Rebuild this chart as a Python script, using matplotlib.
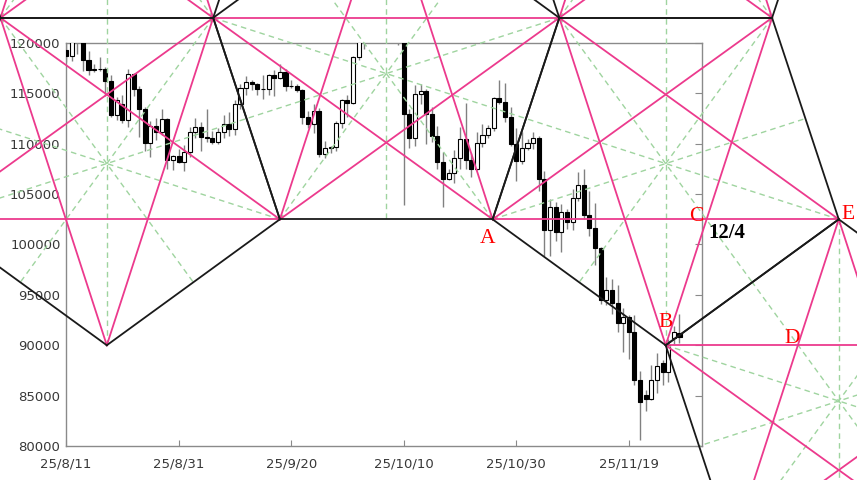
import numpy as np
import pandas as pd
import matplotlib
matplotlib.use("Agg")
import matplotlib.pyplot as plt
import matplotlib.dates as mdates

# daily candles, 25/8/11 .. 25/11/28
dates = pd.date_range("2025-08-11", "2025-11-28", freq="D")

opens = [119300, 118700, 120100, 123300, 118300, 117300, 117400, 117450, 116200, 112900,
         113900, 112400, 116900, 115400, 113400, 110100, 111800, 111200, 112500, 108400,
         108800, 108200, 109200, 111200, 111700, 110700, 110600, 110200, 111150, 112000,
         111500, 113950, 115500, 116100, 115950, 115400, 115450, 116800, 116500, 117100,
         115700, 115750, 115300, 112700, 112000, 113300, 109000, 109600, 109700, 112100,
         114300, 114000, 118600, 120600, 122300, 122400, 123500, 124700, 121400, 123300,
         121700, 113000, 110600, 114900, 115200, 113000, 110800, 108200, 106500, 107100,
         108600, 110500, 108400, 107500, 110100, 110900, 111600, 114500, 114100, 112700,
         110000, 108300, 109600, 110100, 110600, 106500, 101400, 103700, 101200, 103200,
         102200, 104600, 105900, 102900, 101600, 99700, 94500, 95500, 94200, 92200,
         92800, 91300, 86600, 85100, 84700, 86600, 88200, 87300, 90700, 91200]
highs = [122300, 120300, 123700, 124400, 119200, 117900, 118600, 117600, 116800, 114600,
         114800, 117400, 117000, 115700, 113600, 112300, 112600, 113400, 112600, 108900,
         109500, 109900, 111700, 112600, 112200, 113400, 111300, 111600, 112900, 113200,
         114300, 115900, 116700, 116300, 116000, 116800, 116900, 117300, 117900, 117400,
         116300, 115900, 115400, 113300, 113900, 113500, 110300, 109800, 112300, 114400,
         114800, 118700, 121000, 123900, 122900, 125700, 126200, 125200, 124200, 123700,
         122500, 113400, 115800, 115900, 115400, 113600, 111800, 109200, 107500, 109400,
         111700, 114000, 109100, 111200, 112000, 111900, 114600, 116300, 116000, 113600,
         111600, 111200, 110500, 111200, 110800, 107300, 104500, 104200, 104000, 103500,
         105500, 107200, 107500, 105300, 104100, 99800, 96800, 96600, 96000, 93700,
         93000, 93000, 87400, 85600, 88000, 89200, 88500, 90600, 91900, 93100]
lows = [118100, 118200, 118900, 117200, 116800, 117100, 117200, 114700, 112700, 112400,
        112100, 111700, 114700, 110700, 109300, 108700, 110400, 110900, 107500, 107400,
        108100, 107300, 108700, 110600, 109300, 110200, 110000, 110000, 110600, 110800,
        110900, 113400, 114800, 115300, 114800, 114400, 114800, 114700, 116400, 115200,
        115500, 115100, 112000, 111600, 111100, 108700, 108600, 109100, 109300, 111600,
        112700, 113900, 118300, 119400, 121600, 122100, 123100, 120600, 121100, 119800,
        103900, 109600, 109800, 113900, 110000, 110200, 107500, 103700, 106400, 106100,
        107500, 107500, 106700, 107400, 109700, 110600, 111300, 113900, 112200, 109800,
        106300, 108000, 109400, 109500, 105300, 98900, 98900, 100300, 99300, 101500,
        101400, 104300, 102500, 100800, 98000, 94100, 94000, 93100, 91300, 89300,
        88600, 86100, 80600, 83500, 84600, 85300, 86100, 86400, 90100, 90200]
closes = [118700, 120100, 123300, 118300, 117300, 117400, 117450, 116200, 112900, 114300,
          112400, 116900, 115400, 113400, 110100, 111800, 111200, 112500, 108400, 108800,
          108200, 109200, 111200, 111700, 110700, 110600, 110200, 111150, 112000, 111500,
          113950, 115500, 116100, 115950, 115400, 115450, 116800, 116500, 117100, 115700,
          115750, 115300, 112700, 112000, 113300, 109000, 109600, 109700, 112100, 114300,
          114000, 118600, 120600, 122300, 122400, 123500, 124700, 121400, 123300, 121700,
          113000, 110600, 114900, 115200, 113000, 110800, 108200, 106500, 107100, 108600,
          110500, 108400, 107500, 110100, 110900, 111600, 114500, 114100, 112700, 110000,
          108300, 109600, 110100, 110600, 106500, 101400, 103700, 101200, 103200, 102200,
          104600, 105900, 102900, 101600, 99700, 94500, 95500, 94200, 92200, 92800,
          91300, 86600, 84400, 84700, 86600, 87900, 87300, 90000, 91300, 90800]

y_ticks = list(range(80000, 120001, 5000))
x_tick_dates = pd.date_range("2025-08-11", periods=6, freq="20D")

# first pentagon of the overlay (days after 25/8/11, price), the others are
# made by turning it half a turn around a shared edge
pent_days = [7.25, 38.0, 26.15, -11.65, -23.5]
pent_prices = [90000, 102500, 122500, 122500, 102500]

BLACK = "#1a1a1a"
PINK = "#ec3a8d"
GREEN = "#9fd49f"
GRAY = "#8a8a8a"

fig = plt.figure(figsize=(8.57, 4.8), dpi=100)
ax = fig.add_axes([66 / 857, 34 / 480, 636 / 857, 403 / 480])

# candles
x = mdates.date2num(dates)
o = np.array(opens, dtype=float)
c = np.array(closes, dtype=float)
up = c >= o
ax.vlines(x, lows, highs, color="#808080", lw=1.0, zorder=2)
ax.bar(x[up], (c - o)[up], bottom=o[up], width=0.72, color="white",
       edgecolor="black", lw=0.8, zorder=3)
ax.bar(x[~up], (o - c)[~up], bottom=c[~up], width=0.72, color="black",
       edgecolor="black", lw=0.8, zorder=3)

x0 = mdates.date2num(pd.Timestamp("2025-08-11"))
ax.set_xlim(x0, mdates.date2num(pd.Timestamp("2025-12-02")))
ax.set_ylim(80000, 120000)

ax.set_yticks(y_ticks)
ax.set_yticklabels([str(v) for v in y_ticks])
ax.set_xticks(mdates.date2num(x_tick_dates))
ax.set_xticklabels([f"{d.year % 100}/{d.month}/{d.day}" for d in x_tick_dates])
ax.tick_params(axis="x", direction="in", length=4, color=GRAY, pad=8,
               labelsize=9.5, labelcolor="#383838")
ax.tick_params(axis="y", left=False, right=True, direction="in", length=5,
               color=GRAY, pad=4, labelsize=9.5, labelcolor="#383838")
for s in ax.spines.values():
    s.set_color(GRAY)
    s.set_linewidth(1.0)

# pentagon overlay
pent1 = np.column_stack([x0 + np.array(pent_days), pent_prices])


def flip(p, i, j):
    m = (p[i] + p[j]) / 2
    return 2 * m - p


pent2 = flip(pent1, 1, 2)
pent3 = flip(pent2, 3, 4)
pent4 = flip(pent3, 0, 1)
above1 = flip(pent1, 2, 3)
above3 = flip(pent3, 2, 3)

for p in [pent1, pent2, pent3, pent4, above1, above3]:
    for i in range(5):
        a = p[i]
        m = (p[(i + 2) % 5] + p[(i + 3) % 5]) / 2
        ax.plot([a[0], m[0]], [a[1], m[1]], color=GREEN, lw=1.0,
                dashes=(4, 3), clip_on=False, zorder=4)
    for i in range(5):
        a, b = p[i], p[(i + 2) % 5]
        ax.plot([a[0], b[0]], [a[1], b[1]], color=PINK, lw=1.3,
                clip_on=False, zorder=5)
    for i in range(5):
        a, b = p[i], p[(i + 1) % 5]
        ax.plot([a[0], b[0]], [a[1], b[1]], color=BLACK, lw=1.3,
                clip_on=False, zorder=6)


def cross(p1, p2, p3, p4):
    d1 = p2 - p1
    d2 = p4 - p3
    t = np.cross(p3 - p1, d2) / np.cross(d1, d2)
    return p1 + t * d1


pt_a = pent3[4]
pt_b = pent3[0]
pt_e = pent3[1]
pt_c = cross(pt_b, pent3[2], pt_a, pt_e)
pt_d = cross(pt_b, pent4[4], pt_e, pent4[2])

labels = [("A", pt_a, (-3.6, -17)), ("B", pt_b, (0, 13)), ("C", pt_c, (-7.2, -1)),
          ("D", pt_d, (-4.3, 1.4)), ("E", pt_e, (6.8, 0.5))]
for txt, pt, off in labels:
    ax.annotate(txt, xy=pt, xytext=off, textcoords="offset points",
                ha="center", va="baseline", color="red", fontsize=15.5,
                family="Liberation Serif", annotation_clip=False, zorder=8)
ax.annotate("12/4", xy=pt_c, xytext=(14.4, -13.7), textcoords="offset points",
            ha="center", va="baseline", color="black", fontsize=15,
            fontweight="bold", family="Liberation Serif",
            annotation_clip=False, zorder=8)

fig.savefig("out.png", dpi=100)
